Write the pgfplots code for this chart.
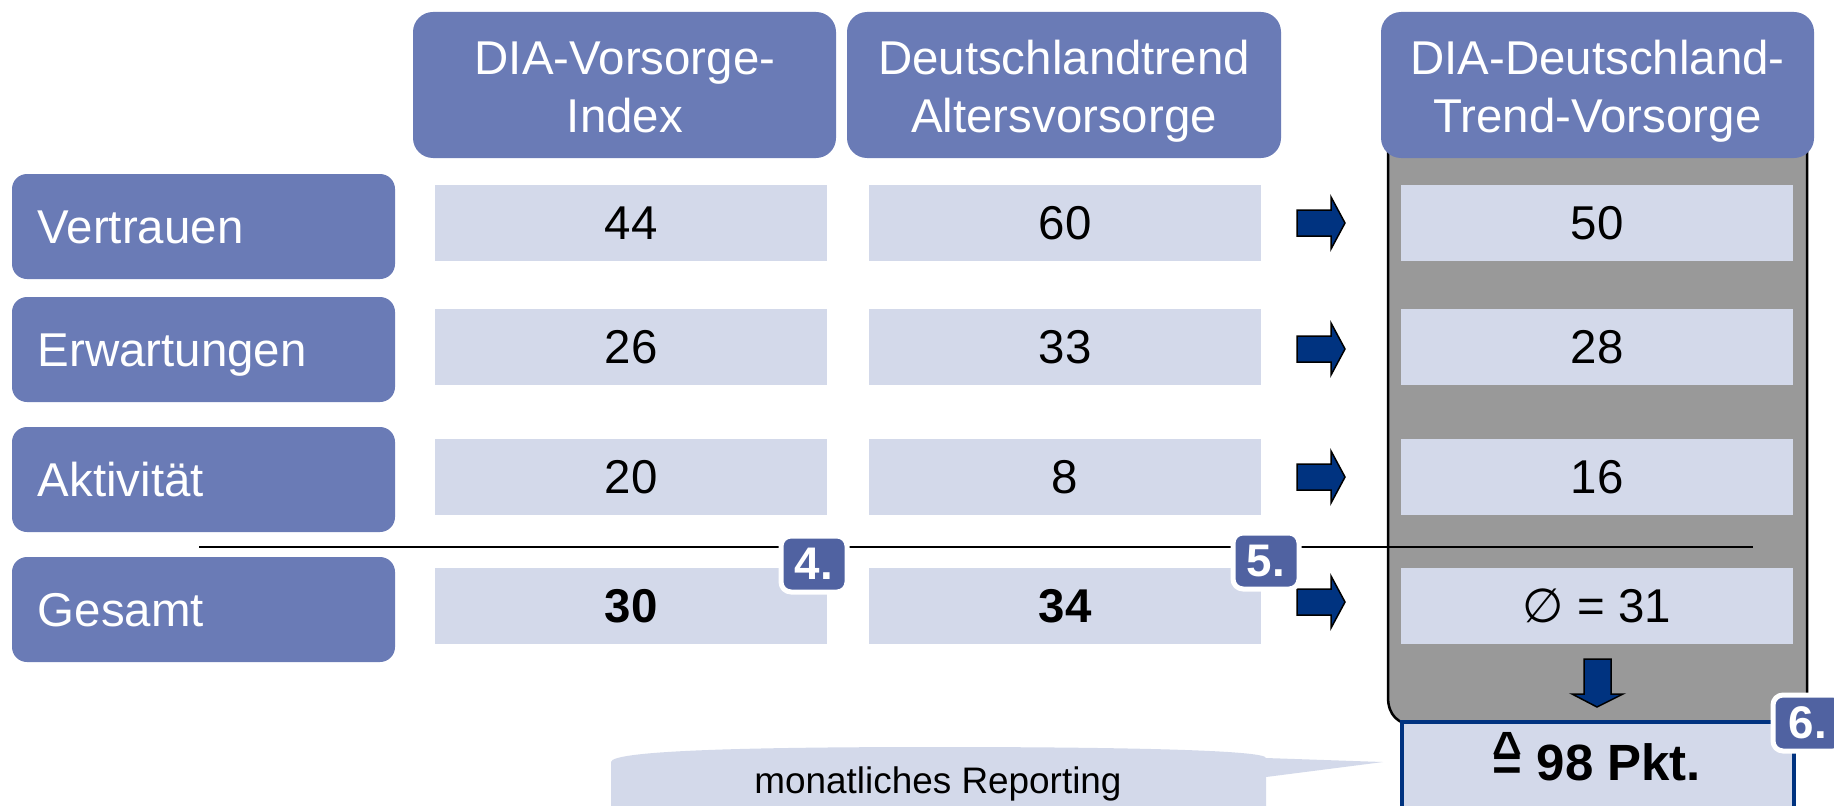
\documentclass[border=0pt]{standalone}
\usepackage{pgfplots}
\pgfplotsset{compat=1.18}
\usepackage{pgfplotstable}
\usepackage{fontspec}
\setmainfont{Liberation Sans}
\newfontfamily\dejavu{DejaVu Sans}

\definecolor{hdr}{RGB}{106,123,182}
\definecolor{cell}{RGB}{211,217,234}
\definecolor{panel}{RGB}{153,153,153}
\definecolor{arrowc}{RGB}{0,51,128}
\definecolor{badgec}{RGB}{80,98,161}

\newcommand\mainsz{\fontsize{13.5}{16.5}\selectfont}
\newcommand\corr{\ooalign{=\cr\hidewidth\raisebox{0.25em}{\textasciicircum}\hidewidth\cr}}

% values per row, columns: DIA-Vorsorge-Index, Deutschlandtrend, DIA-Deutschland-Trend
\pgfplotstableread{
x    y   v
631  223 44
631  347 26
631  477 20
1065 223 60
1065 347 33
1065 477 8
1597 223 50
1597 347 28
1597 477 16
}\rows
\pgfplotstableread{
x    y   v
631  606 30
1065 606 34
}\total

\tikzset{badge/.style={fill=badgec, draw=white, line width=0.5mm, rounded corners=1mm,
    minimum width=6.6mm, minimum height=5.6mm, inner sep=0pt, text=white,
    font=\bfseries\fontsize{13}{15}\selectfont}}
\pgfplotsset{cellnode/.style={draw=none, mark=none, nodes near coords,
    point meta=explicit symbolic, nodes near coords align={anchor=center},
    every node near coord/.append style={fill=cell, minimum width=39.2mm,
      minimum height=7.65mm, inner sep=0pt, font=\mainsz, text=black}}}

\begin{document}
\begin{tikzpicture}
\begin{axis}[
  scale only axis, width=18.34cm, height=8.05cm,
  xmin=0, xmax=1834, ymin=0, ymax=805, y dir=reverse,
  axis line style={draw=none}, tick style={draw=none},
  axis on top,
  xtick={625,1064,1597.5},
  xticklabels={{DIA-Vorsorge-\\Index},{Deutschlandtrend\\Altersvorsorge},{DIA-Deutschland-\\Trend-Vorsorge}},
  xticklabel style={align=center, anchor=base, inner sep=0pt, yshift=67.3mm,
    text=white, font=\mainsz},
  ytick={226,349,479,609},
  yticklabels={Vertrauen,Erwartungen,Aktivität,Gesamt},
  yticklabel style={anchor=base west, inner sep=0pt, xshift=3.7mm, yshift=-1.7mm,
    text=white, font=\mainsz},
]
% grey panel behind the third column
\filldraw[fill=panel, draw=black, line width=0.25mm] (1388,100) -- (1388,697)
  .. controls (1388,715) and (1398,725) .. (1416,725) -- (1807,725) -- (1807,100) -- cycle;

% header boxes
\fill[hdr, rounded corners=2mm] (413,12) rectangle (836,158);
\fill[hdr, rounded corners=2mm] (847,12) rectangle (1281,158);
\fill[hdr, rounded corners=2mm] (1381,12) rectangle (1814,158);

% row label boxes
\fill[hdr, rounded corners=1.5mm] (12,174) rectangle (395,279);
\fill[hdr, rounded corners=1.5mm] (12,297) rectangle (395,402);
\fill[hdr, rounded corners=1.5mm] (12,427) rectangle (395,532);
\fill[hdr, rounded corners=1.5mm] (12,557) rectangle (395,662);

\draw[black, line width=0.2mm] (199,547) -- (1753,547);

% arrows
\filldraw[fill=arrowc, draw=black, line width=0.15mm] (1297,210) -- (1331,210) -- (1331,197) -- (1345,223) -- (1331,249) -- (1331,236) -- (1297,236) -- cycle;
\filldraw[fill=arrowc, draw=black, line width=0.15mm] (1297,336) -- (1331,336) -- (1331,323) -- (1345,349) -- (1331,375) -- (1331,362) -- (1297,362) -- cycle;
\filldraw[fill=arrowc, draw=black, line width=0.15mm] (1297,464) -- (1331,464) -- (1331,451) -- (1345,477) -- (1331,503) -- (1331,490) -- (1297,490) -- cycle;
\filldraw[fill=arrowc, draw=black, line width=0.15mm] (1297,589) -- (1331,589) -- (1331,576) -- (1345,602) -- (1331,628) -- (1331,615) -- (1297,615) -- cycle;
\filldraw[fill=arrowc, draw=black, line width=0.15mm] (1584,659) -- (1611,659) -- (1611,694) -- (1623,694) -- (1597,707) -- (1572,694) -- (1584,694) -- cycle;

% value cells
\addplot[cellnode] table[x=x, y=y, meta=v] {\rows};
\addplot[cellnode, every node near coord/.append style={font=\mainsz\bfseries}] table[x=x, y=y, meta=v] {\total};
\addplot[cellnode, nodes near coords={{\dejavu ∅} = \pgfplotspointmeta}] coordinates {(1597,606) [31]};

% result box
\filldraw[fill=cell, draw=arrowc, line width=0.45mm] (1402,722) rectangle (1794,815);
\addplot[draw=none, mark=none, point meta=explicit symbolic,
  nodes near coords={\corr\ \pgfplotspointmeta\ Pkt.},
  nodes near coords align={anchor=base},
  every node near coord/.append style={font=\bfseries\fontsize{14.5}{16}\selectfont, inner sep=0pt, text=black}]
  coordinates {(1597,780) [98]};

% speech bubble
\fill[cell] (611,810) -- (611,762) .. controls (611,750) and (760,747) .. (938,747)
  .. controls (1120,747) and (1266,750) .. (1266,758) -- (1383,762) -- (1266,777) -- (1266,810) -- cycle;
\node[anchor=base, font=\fontsize{10.5}{12}\selectfont] at (938,793) {monatliches Reporting};

\coordinate (b4) at (814,564);
\coordinate (b5) at (1266,561);
\coordinate (b6) at (1808,723);
\end{axis}
% step badges, on top of the value cells
\begin{scope}
\clip (current axis.south west) rectangle (current axis.north east);
\node[badge] at (b4) {4.};
\node[badge] at (b5) {5.};
\node[badge, minimum width=7mm] at (b6) {6.};
\end{scope}
\pgfresetboundingbox
\useasboundingbox (current axis.south west) rectangle (current axis.north east);
\end{tikzpicture}
\end{document}
